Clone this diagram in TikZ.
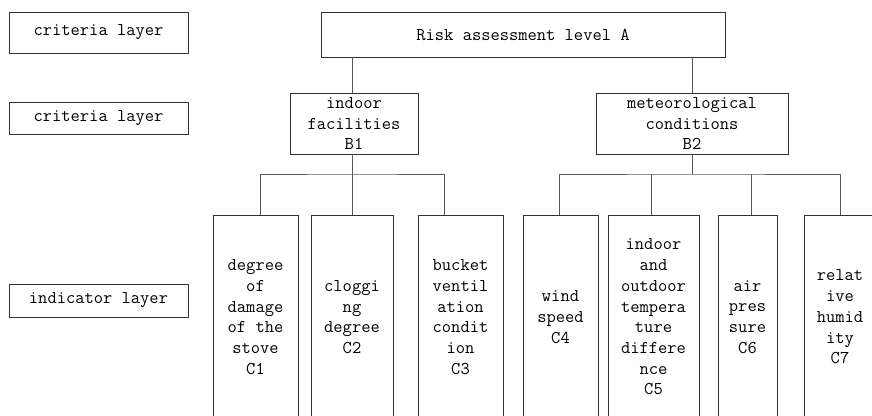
\documentclass[tikz,border=0pt]{standalone}
\usepackage{fontspec}
\usetikzlibrary{positioning, calc}

\begin{document}
\begin{tikzpicture}[x=1pt, y=-1pt,
  box/.style={rectangle, draw=black!80, line width=0.8pt, inner sep=0pt,
              align=center, font={\ttfamily\fontsize{18}{20.7}\selectfont}},
  layer/.style={box, minimum width=179pt},
  link/.style={draw=black!65, line width=1pt}
]
  \useasboundingbox (0,0) rectangle (872,415);
  \clip (0,0) rectangle (872,415);

  % Layer names on the left
  \node[layer, minimum height=41pt] (L1) at (98.5, 32.5)  {criteria layer};
  \node[layer, minimum height=32pt] (L2) at (98.5, 118)   {criteria layer};
  \node[layer, minimum height=33pt] (L3) at (98.5, 300.5) {indicator layer};

  % Goal and criteria
  \node[box, minimum width=404pt, minimum height=45pt] (A) at (523, 34.5)
    {Risk assessment level A};
  \node[box, minimum width=128pt, minimum height=61pt] (B1) at (354, 123.5)
    {indoor\\facilities\\B1};
  \node[box, minimum width=192pt, minimum height=61pt] (B2) at (692, 123.5)
    {meteorological\\conditions\\B2};

  % Indicators (boxes run past the lower edge)
  \node[box, minimum width=85pt, minimum height=204pt] (C1) at (255.5, 317)
    {degree\\of\\damage\\of the\\stove\\C1};
  \node[box, minimum width=82pt, minimum height=204pt] (C2) at (352, 317)
    {cloggi\\ng\\degree\\C2};
  \node[box, minimum width=85pt, minimum height=204pt] (C3) at (460.5, 317)
    {bucket\\ventil\\ation\\condit\\ion\\C3};
  \node[box, minimum width=75pt, minimum height=204pt] (C4) at (560.5, 317)
    {wind\\speed\\C4};
  \node[box, minimum width=91pt, minimum height=204pt] (C5) at (653.5, 317)
    {indoor\\and\\outdoor\\tempera\\ture\\differe\\nce\\C5};
  \node[box, minimum width=59pt, minimum height=204pt] (C6) at (747.5, 317)
    {air\\pres\\sure\\C6};
  \node[box, minimum width=72pt, minimum height=204pt] (C7) at (840, 317)
    {relat\\ive\\humid\\ity\\C7};

  % Junctions below the criteria
  \coordinate (j1) at (352, 174);
  \coordinate (j2) at (692, 174);

  % Goal to criteria
  \draw[link] (A.south -| j1) -- (B1.north -| j1);
  \draw[link] (A.south -| B2.north) -- (B2.north);

  % Criteria to indicators
  \draw[link] (B1.south -| j1) -- (j1);
  \draw[link] ([xshift=4.5pt]C1.north) |- (j1) -| ([xshift=-16.5pt]C3.north);
  \draw[link] (j1) -- (C2.north);
  \draw[link] (B2.south) -- (j2);
  \draw[link] ([xshift=-1.5pt]C4.north) |- (j2) -| (C7.north);
  \draw[link] ([xshift=-2.5pt]C5.north) -- ([xshift=-2.5pt]C5.north |- j2);
  \draw[link] ([xshift=3.5pt]C6.north) -- ([xshift=3.5pt]C6.north |- j2);
\end{tikzpicture}
\end{document}
